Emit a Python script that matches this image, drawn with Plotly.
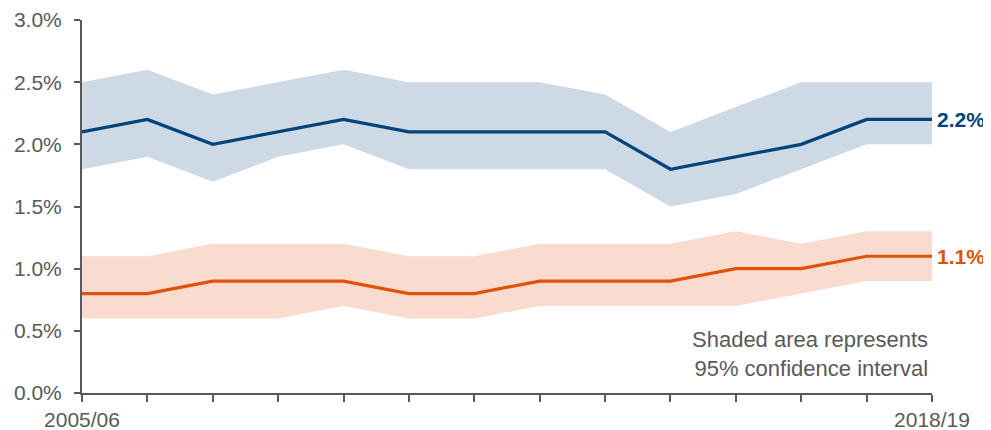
import plotly.graph_objects as go

years = ["2005/06", "2006/07", "2007/08", "2008/09", "2009/10", "2010/11", "2011/12",
         "2012/13", "2013/14", "2014/15", "2015/16", "2016/17", "2017/18", "2018/19"]

blue_value = [2.1, 2.2, 2.0, 2.1, 2.2, 2.1, 2.1, 2.1, 2.1, 1.8, 1.9, 2.0, 2.2, 2.2]
blue_upper = [2.5, 2.6, 2.4, 2.5, 2.6, 2.5, 2.5, 2.5, 2.4, 2.1, 2.3, 2.5, 2.5, 2.5]
blue_lower = [1.8, 1.9, 1.7, 1.9, 2.0, 1.8, 1.8, 1.8, 1.8, 1.5, 1.6, 1.8, 2.0, 2.0]

orange_value = [0.8, 0.8, 0.9, 0.9, 0.9, 0.8, 0.8, 0.9, 0.9, 0.9, 1.0, 1.0, 1.1, 1.1]
orange_upper = [1.1, 1.1, 1.2, 1.2, 1.2, 1.1, 1.1, 1.2, 1.2, 1.2, 1.3, 1.2, 1.3, 1.3]
orange_lower = [0.6, 0.6, 0.6, 0.6, 0.7, 0.6, 0.6, 0.7, 0.7, 0.7, 0.7, 0.8, 0.9, 0.9]

tick_text = ["2005/06"] + [""] * 12 + ["2018/19"]
y_ticks = [0.0, 0.5, 1.0, 1.5, 2.0, 2.5, 3.0]
y_tick_text = ["0.0%", "0.5%", "1.0%", "1.5%", "2.0%", "2.5%", "3.0%"]

BLUE = "#00427A"
BLUE_BAND = "#CDD9E5"
ORANGE = "#E05206"
ORANGE_BAND = "#F9DCCF"
GREY = "#595959"
FONT = "Liberation Sans, Arial, sans-serif"

fig = go.Figure()

# Bands
fig.add_trace(go.Scatter(x=years, y=blue_upper, mode="lines", line=dict(width=0),
                         hoverinfo="skip", showlegend=False))
fig.add_trace(go.Scatter(x=years, y=blue_lower, mode="lines", line=dict(width=0),
                         fill="tonexty", fillcolor=BLUE_BAND, hoverinfo="skip", showlegend=False))
fig.add_trace(go.Scatter(x=years, y=orange_upper, mode="lines", line=dict(width=0),
                         hoverinfo="skip", showlegend=False))
fig.add_trace(go.Scatter(x=years, y=orange_lower, mode="lines", line=dict(width=0),
                         fill="tonexty", fillcolor=ORANGE_BAND, hoverinfo="skip", showlegend=False))

# Lines
fig.add_trace(go.Scatter(x=years, y=blue_value, mode="lines",
                         line=dict(color=BLUE, width=3.2), showlegend=False))
fig.add_trace(go.Scatter(x=years, y=orange_value, mode="lines",
                         line=dict(color=ORANGE, width=3.2), showlegend=False))

# End labels
fig.add_annotation(x=years[-1], y=blue_value[-1], text="<b>%.1f%%</b>" % blue_value[-1],
                   showarrow=False, xanchor="left", yanchor="middle", xshift=3,
                   font=dict(family=FONT, size=21, color=BLUE))
fig.add_annotation(x=years[-1], y=orange_value[-1], text="<b>%.1f%%</b>" % orange_value[-1],
                   showarrow=False, xanchor="left", yanchor="middle", xshift=3,
                   font=dict(family=FONT, size=21, color=ORANGE))

fig.add_annotation(x=years[-1], y=0.08, text="Shaded area represents<br>95% confidence interval",
                   showarrow=False, xanchor="right", yanchor="bottom", align="right", xshift=-2,
                   font=dict(family=FONT, size=22, color=GREY))

fig.update_layout(
    width=983, height=422,
    margin=dict(l=74, r=59, t=12, b=37, autoexpand=False),
    paper_bgcolor="white", plot_bgcolor="white",
    font=dict(family=FONT, size=21, color=GREY),
    xaxis=dict(type="category", range=[0, 13], tickvals=years, ticktext=tick_text,
               showline=True, linecolor=GREY, linewidth=2, automargin=False,
               ticks="outside", ticklen=7, tickwidth=2, tickcolor=GREY, ticklabelstandoff=0,
               showgrid=False, zeroline=False, tickfont=dict(size=21, color=GREY)),
    yaxis=dict(range=[0, 3], tickvals=y_ticks, ticktext=y_tick_text,
               showline=True, linecolor=GREY, linewidth=2, automargin=False,
               ticks="outside", ticklen=6, tickwidth=2, tickcolor=GREY, ticklabelstandoff=8,
               showgrid=False, zeroline=False, tickfont=dict(size=21, color=GREY)),
)

fig.write_html("out.html")
